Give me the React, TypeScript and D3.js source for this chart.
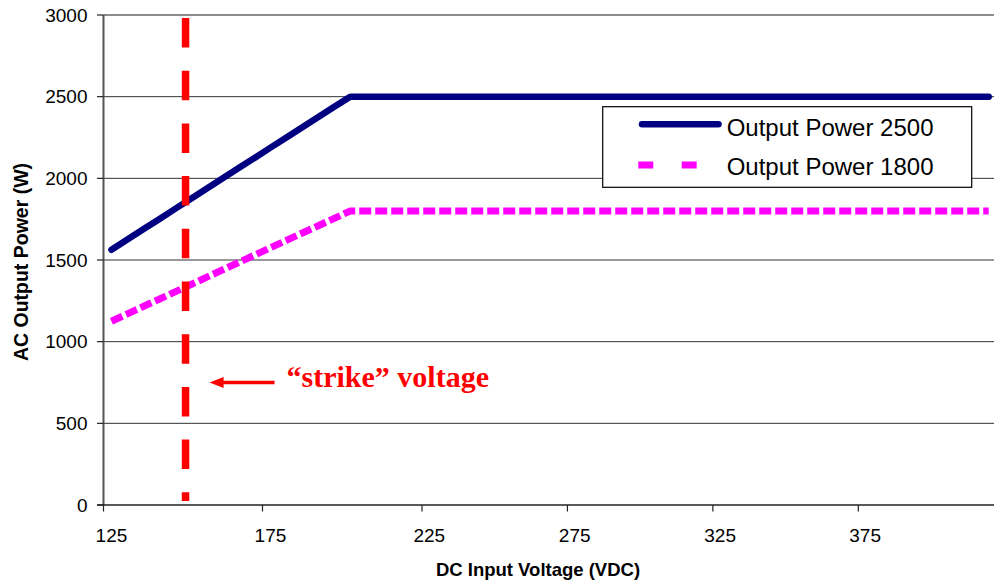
import React from "react";
import * as d3 from "d3";

// ---- data ----
const voltages = [125, 130, 135, 140, 145, 150, 155, 160, 165, 170, 175, 180, 185, 190, 195, 200, 225, 250, 275, 300, 325, 350, 375, 400, 420];
const power2500 = [1563, 1625, 1688, 1750, 1813, 1875, 1938, 2000, 2063, 2125, 2188, 2250, 2313, 2375, 2438, 2500, 2500, 2500, 2500, 2500, 2500, 2500, 2500, 2500, 2500];
const power1800 = [1125, 1170, 1215, 1260, 1305, 1350, 1395, 1440, 1485, 1530, 1575, 1620, 1665, 1710, 1755, 1800, 1800, 1800, 1800, 1800, 1800, 1800, 1800, 1800, 1800];
const xTickLabels = [125, 175, 225, 275, 325, 375];
const yTicks = [0, 500, 1000, 1500, 2000, 2500, 3000];
const strikeVoltage = 148.3;
const seriesNames = ["Output Power 2500", "Output Power 1800"];

const W = 994;
const H = 588;
const SANS = "'Liberation Sans', Arial, sans-serif";
const SERIF = "'Liberation Serif', 'Times New Roman', serif";

export default function App() {
  // category-style axis: labels at category centres, ticks at category boundaries
  const x = d3
    .scaleLinear()
    .domain([122.5, 172.5, 222.5, 372.5, 420])
    .range([103.5, 262.5, 422, 858.3, 988.7]);
  const y = d3.scaleLinear().domain([0, 3000]).range([505, 15]);
  const plotLeft = x(122.5);
  const plotRight = W;

  const line = d3
    .line<number>()
    .x((_, i) => x(voltages[i]))
    .y((d) => y(d));

  const sx = x(strikeVoltage);
  const arrowY = y(750);

  return (
    <svg width={W} height={H} style={{ position: "absolute", left: 0, top: 0, background: "#fff" }}>
      {/* gridlines */}
      {yTicks.map((t) => (
        <line
          key={"g" + t}
          x1={plotLeft}
          x2={plotRight}
          y1={y(t)}
          y2={y(t)}
          stroke={t === 3000 ? "#8c8c8c" : t === 0 ? "none" : "#333"}
          strokeWidth={t === 3000 ? 2 : 1}
        />
      ))}
      {/* y axis */}
      <line x1={plotLeft} x2={plotLeft} y1={y(3000)} y2={y(0)} stroke="#555" strokeWidth={2} />
      {yTicks.map((t) => (
        <g key={"yt" + t}>
          <line x1={plotLeft - 6.5} x2={plotLeft} y1={y(t)} y2={y(t)} stroke="#222" strokeWidth={1.2} />
          <text
            x={87.5}
            y={y(t)}
            textAnchor="end"
            dominantBaseline="central"
            fontFamily={SANS}
            fontSize={19}
            fill="#000"
          >
            {t}
          </text>
        </g>
      ))}
      {/* x axis */}
      <line x1={plotLeft - 6.5} x2={plotRight} y1={y(0)} y2={y(0)} stroke="#222" strokeWidth={1.5} />
      {xTickLabels.map((v) => (
        <g key={"xt" + v}>
          <line x1={x(v - 2.5)} x2={x(v - 2.5)} y1={y(0)} y2={y(0) + 6.5} stroke="#222" strokeWidth={1.2} />
          <text x={x(v)} y={541.5} textAnchor="middle" fontFamily={SANS} fontSize={19} fill="#000">
            {v}
          </text>
        </g>
      ))}

      {/* series */}
      <path
        d={line(power1800) || ""}
        fill="none"
        stroke="#ff00ff"
        strokeWidth={7}
        strokeDasharray="12,4"
        strokeLinejoin="round"
      />
      <path
        d={line(power2500) || ""}
        fill="none"
        stroke="#000080"
        strokeWidth={6.5}
        strokeLinecap="round"
        strokeLinejoin="round"
      />

      {/* strike voltage marker */}
      <line x1={sx} x2={sx} y1={18} y2={501} stroke="#ff0000" strokeWidth={7.5} strokeDasharray="29.5,23.2" />
      <line x1={sx + 36} x2={sx + 89} y1={arrowY} y2={arrowY} stroke="#ff0000" strokeWidth={3.5} />
      <path
        d={`M${sx + 24},${arrowY} L${sx + 38},${arrowY - 5.5} L${sx + 38},${arrowY + 5.5} Z`}
        fill="#ff0000"
      />
      <text x={sx + 101} y={arrowY + 4} fontFamily={SERIF} fontWeight="bold" fontSize={30} fill="#ff0000">
        “strike” voltage
      </text>

      {/* legend */}
      <rect x={602.7} y={106.7} width={369} height={80.6} fill="#fff" stroke="#000" strokeWidth={1.2} />
      <line x1={642} x2={718.5} y1={124.3} y2={124.3} stroke="#000080" strokeWidth={6.5} strokeLinecap="round" />
      <text x={726.7} y={135.7} fontFamily={SANS} fontSize={24} fill="#000">
        {seriesNames[0]}
      </text>
      <line x1={638.3} x2={696.7} y1={165} y2={165} stroke="#ff00ff" strokeWidth={7} strokeDasharray="15,28.4" />
      <text x={726.7} y={175} fontFamily={SANS} fontSize={24} fill="#000">
        {seriesNames[1]}
      </text>

      {/* axis titles */}
      <text
        x={538}
        y={575.5}
        textAnchor="middle"
        fontFamily={SANS}
        fontWeight="bold"
        fontSize={18.5}
        fill="#000"
      >
        DC Input Voltage (VDC)
      </text>
      <text
        transform={`translate(21,262) rotate(-90)`}
        textAnchor="middle"
        dominantBaseline="central"
        fontFamily={SANS}
        fontWeight="bold"
        fontSize={19.5}
        fill="#000"
      >
        AC Output Power (W)
      </text>
    </svg>
  );
}
